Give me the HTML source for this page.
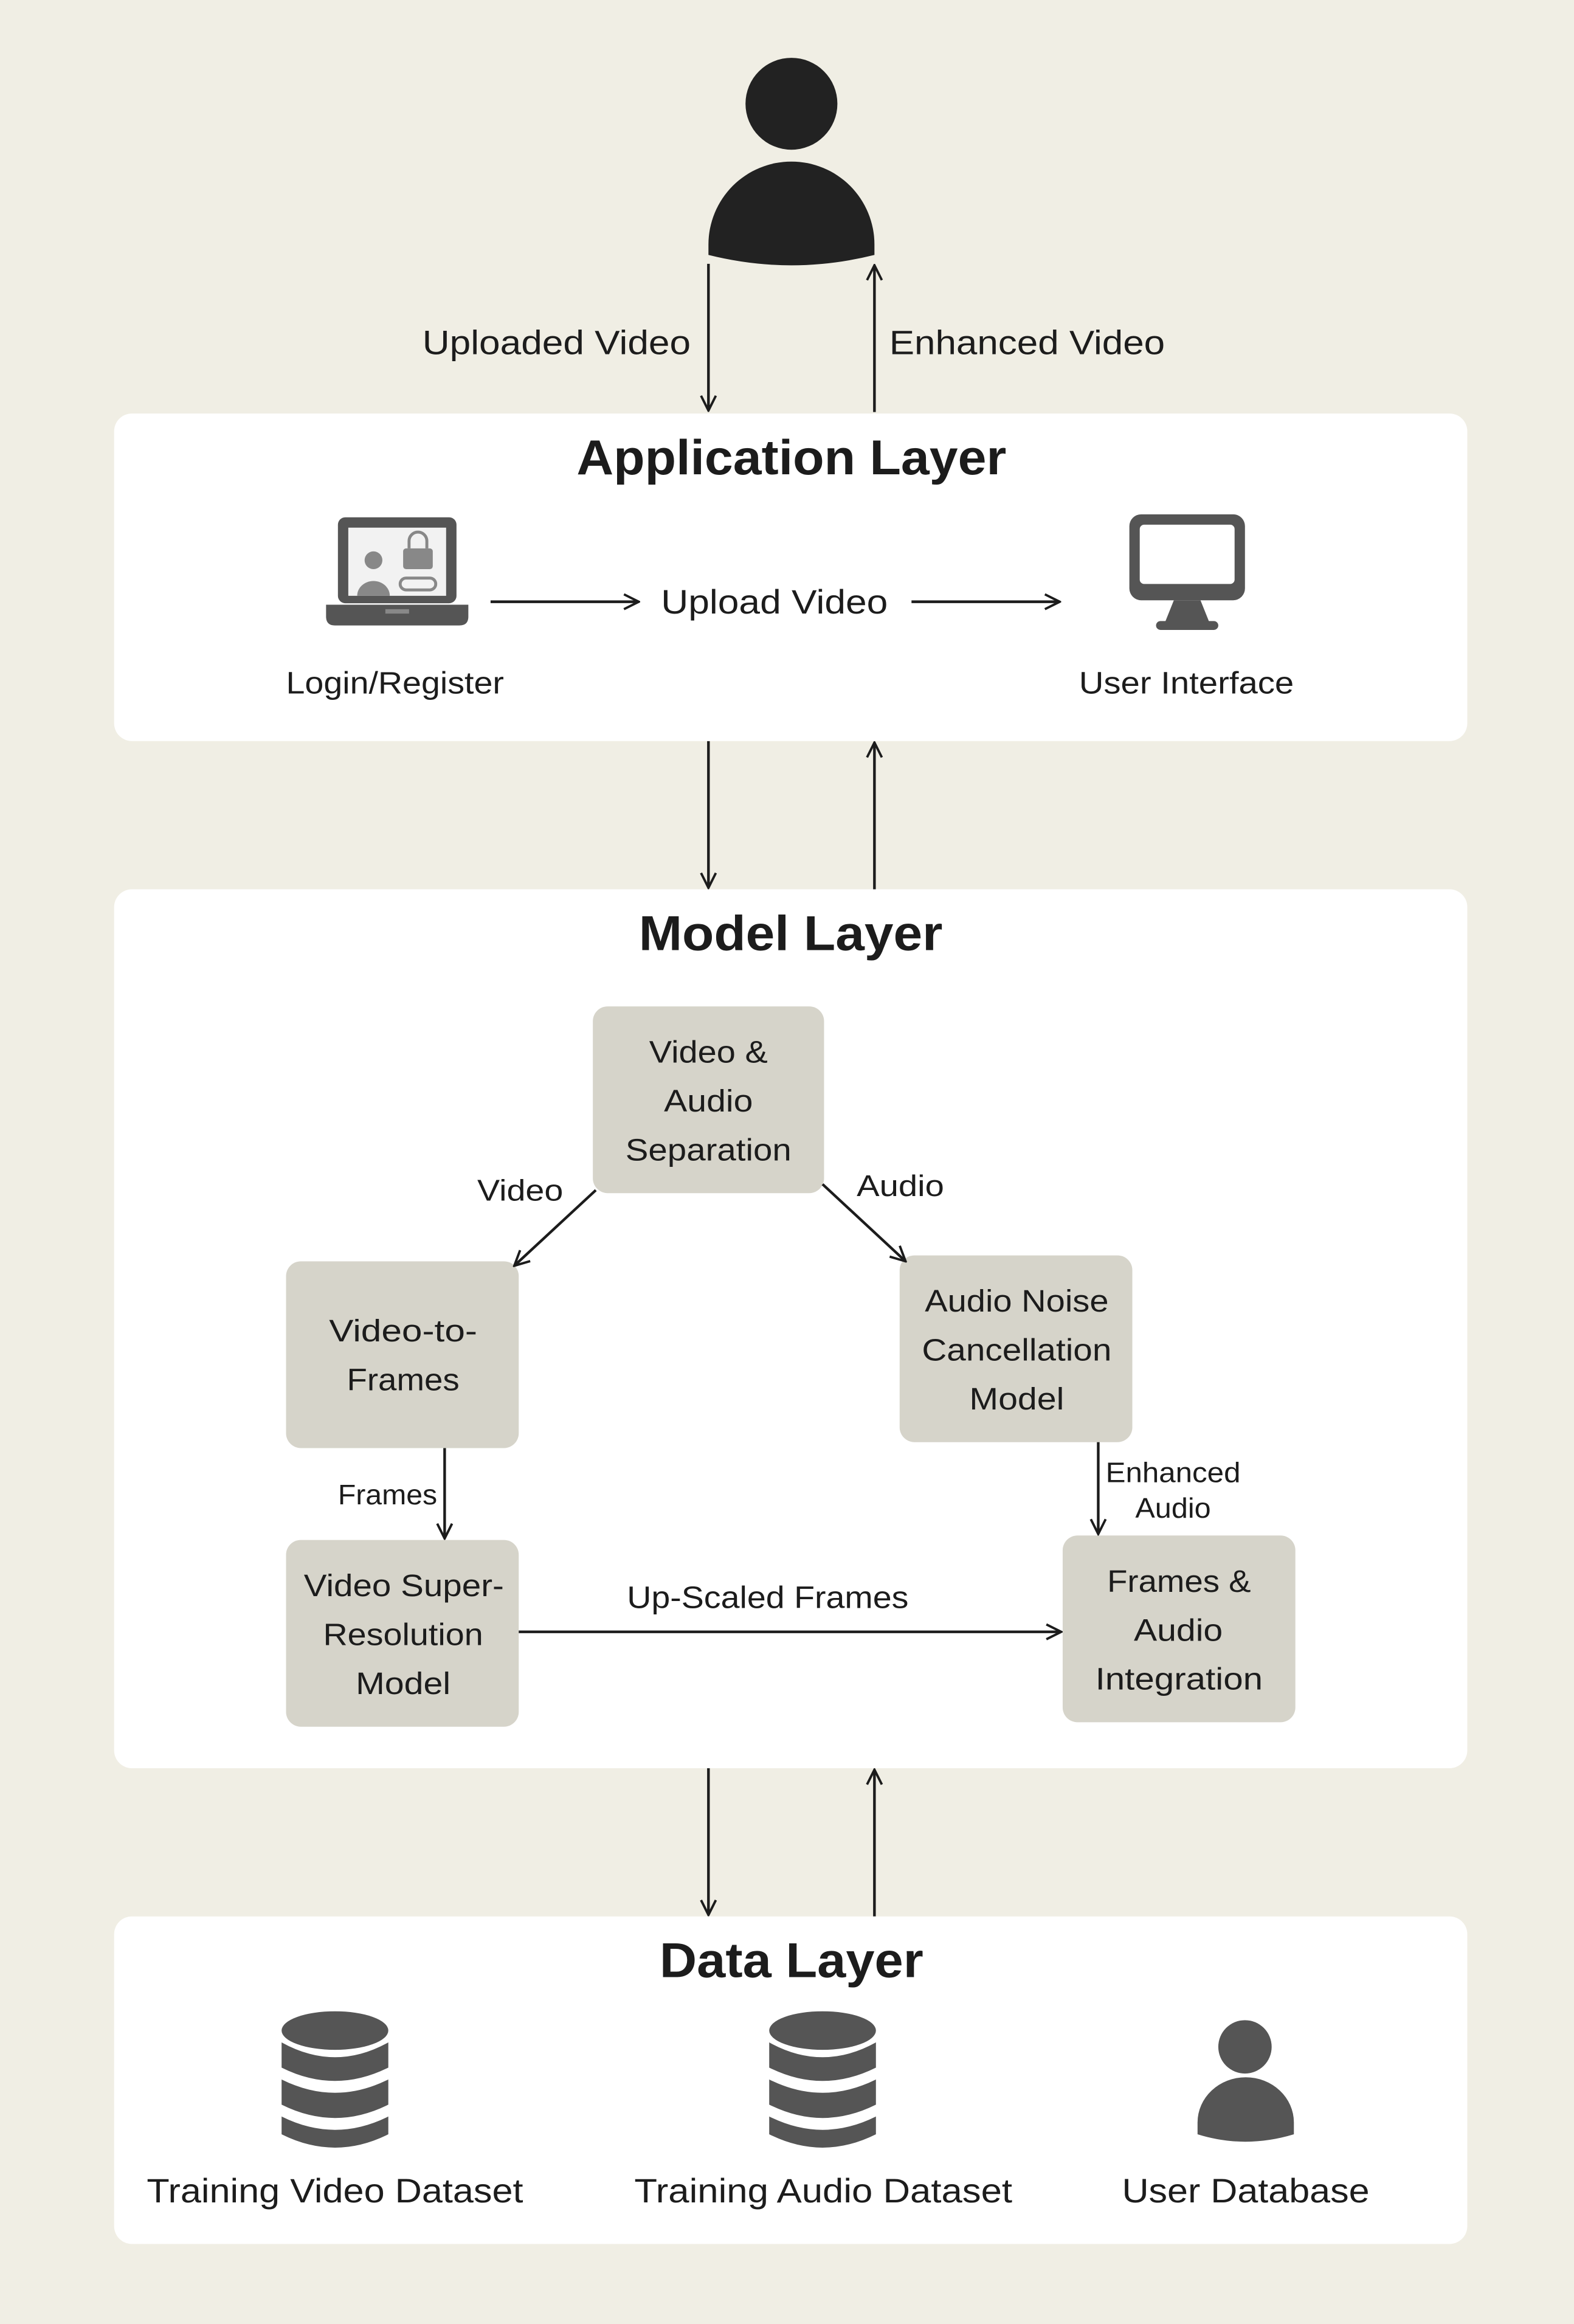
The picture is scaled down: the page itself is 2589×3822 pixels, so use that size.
<!DOCTYPE html>
<html><head><meta charset="utf-8"><style>
html,body{margin:0;padding:0;background:#f0eee4;}
svg{display:block;}
text{font-family:"Liberation Sans","DejaVu Sans",sans-serif;fill:#1c1c1c;}
</style></head><body>
<svg width="2589" height="3822" viewBox="0 0 1062 1568" preserveAspectRatio="none" xmlns="http://www.w3.org/2000/svg">
<defs>
<marker id="ah" viewBox="0 0 12 12" refX="11" refY="6" markerWidth="12" markerHeight="12" markerUnits="userSpaceOnUse" orient="auto">
<path d="M1,1 L11,6 L1,11" fill="none" stroke="#1c1c1c" stroke-width="1.6"/>
</marker>
</defs>
<rect width="1062" height="1568" fill="#f0eee4"/>
<circle cx="534" cy="70" r="31" fill="#222"/>
<path d="M478,172 L478,165 A56,56 0 0 1 590,165 L590,172 Q534,186 478,172 Z" fill="#222"/>
<g stroke="#1c1c1c" stroke-width="1.8" fill="none" marker-end="url(#ah)">
<line x1="478" y1="178" x2="478" y2="277"/>
<line x1="590" y1="278" x2="590" y2="179"/>
<line x1="478" y1="500" x2="478" y2="599"/>
<line x1="590" y1="600" x2="590" y2="501"/>
<line x1="478" y1="1193" x2="478" y2="1292"/>
<line x1="590" y1="1293" x2="590" y2="1194"/>
</g>
<g lengthAdjust="spacingAndGlyphs">
<text x="285" y="239" font-size="23" textLength="181" lengthAdjust="spacingAndGlyphs">Uploaded Video</text>
<text x="600" y="239" font-size="23" textLength="186" lengthAdjust="spacingAndGlyphs">Enhanced Video</text>
</g>
<rect x="77" y="279" width="913" height="221" rx="12" fill="#fff"/>
<rect x="77" y="600" width="913" height="593" rx="12" fill="#fff"/>
<rect x="77" y="1293" width="913" height="221" rx="12" fill="#fff"/>
<text x="389" y="320" font-size="33" font-weight="bold" textLength="290" lengthAdjust="spacingAndGlyphs">Application Layer</text>
<text x="431" y="641" font-size="33" font-weight="bold" textLength="205" lengthAdjust="spacingAndGlyphs">Model Layer</text>
<text x="445" y="1334" font-size="33" font-weight="bold" textLength="178" lengthAdjust="spacingAndGlyphs">Data Layer</text>
<rect x="228" y="349" width="80" height="58" rx="5" fill="#555"/>
<rect x="235" y="356" width="66" height="46" fill="#f2f2f2"/>
<circle cx="252" cy="378" r="6" fill="#888"/>
<path d="M241,402 A11,10 0 0 1 263,402 Z" fill="#888"/>
<rect x="272" y="370" width="20" height="14" rx="2" fill="#888"/>
<path d="M276,370 v-5 a6,6 0 0 1 12,0 v5" fill="none" stroke="#888" stroke-width="2"/>
<rect x="270" y="390" width="24" height="8" rx="4" fill="none" stroke="#888" stroke-width="2"/>
<path d="M220,408 H316 V416 Q316,422 310,422 H226 Q220,422 220,416 Z" fill="#555"/>
<rect x="260" y="411" width="16" height="3" fill="#888"/>
<text x="193" y="468" font-size="21" textLength="147" lengthAdjust="spacingAndGlyphs">Login/Register</text>
<g stroke="#1c1c1c" stroke-width="1.8" fill="none" marker-end="url(#ah)">
<line x1="331" y1="406" x2="431" y2="406"/>
<line x1="615" y1="406" x2="715" y2="406"/>
</g>
<text x="446" y="414" font-size="23" textLength="153" lengthAdjust="spacingAndGlyphs">Upload Video</text>
<rect x="762" y="347" width="78" height="58" rx="8" fill="#555"/>
<rect x="769" y="354" width="64" height="40" rx="3" fill="#fff"/>
<path d="M792,405 L786,420 H816 L810,405 Z" fill="#555"/>
<rect x="780" y="419" width="42" height="6" rx="3" fill="#555"/>
<text x="728" y="468" font-size="21" textLength="145" lengthAdjust="spacingAndGlyphs">User Interface</text>
<g fill="#d6d4ca">
<rect x="400" y="679" width="156" height="126" rx="10"/>
<rect x="193" y="851" width="157" height="126" rx="10"/>
<rect x="607" y="847" width="157" height="126" rx="10"/>
<rect x="193" y="1039" width="157" height="126" rx="10"/>
<rect x="717" y="1036" width="157" height="126" rx="10"/>
</g>
<g font-size="21">
<text x="438" y="717" textLength="80" lengthAdjust="spacingAndGlyphs">Video &amp;</text>
<text x="448" y="750" textLength="60" lengthAdjust="spacingAndGlyphs">Audio</text>
<text x="422" y="783" textLength="112" lengthAdjust="spacingAndGlyphs">Separation</text>
<text x="222" y="905" textLength="100" lengthAdjust="spacingAndGlyphs">Video-to-</text>
<text x="234" y="938" textLength="76" lengthAdjust="spacingAndGlyphs">Frames</text>
<text x="624" y="885" textLength="124" lengthAdjust="spacingAndGlyphs">Audio Noise</text>
<text x="622" y="918" textLength="128" lengthAdjust="spacingAndGlyphs">Cancellation</text>
<text x="654" y="951" textLength="64" lengthAdjust="spacingAndGlyphs">Model</text>
<text x="205" y="1077" textLength="135" lengthAdjust="spacingAndGlyphs">Video Super-</text>
<text x="218" y="1110" textLength="108" lengthAdjust="spacingAndGlyphs">Resolution</text>
<text x="240" y="1143" textLength="64" lengthAdjust="spacingAndGlyphs">Model</text>
<text x="747" y="1074" textLength="97" lengthAdjust="spacingAndGlyphs">Frames &amp;</text>
<text x="765" y="1107" textLength="60" lengthAdjust="spacingAndGlyphs">Audio</text>
<text x="739" y="1140" textLength="113" lengthAdjust="spacingAndGlyphs">Integration</text>
</g>
<g stroke="#1c1c1c" stroke-width="1.8" fill="none" marker-end="url(#ah)">
<line x1="402" y1="803" x2="347" y2="854"/>
<line x1="555" y1="799" x2="611" y2="851"/>
<line x1="300" y1="977" x2="300" y2="1038"/>
<line x1="741" y1="973" x2="741" y2="1035"/>
<line x1="350" y1="1101" x2="716" y2="1101"/>
</g>
<text x="322" y="810" font-size="20" textLength="58" lengthAdjust="spacingAndGlyphs">Video</text>
<text x="578" y="807" font-size="20" textLength="59" lengthAdjust="spacingAndGlyphs">Audio</text>
<text x="228" y="1015" font-size="19" textLength="67" lengthAdjust="spacingAndGlyphs">Frames</text>
<text x="746" y="1000" font-size="19" textLength="91" lengthAdjust="spacingAndGlyphs">Enhanced</text>
<text x="766" y="1024" font-size="19" textLength="51" lengthAdjust="spacingAndGlyphs">Audio</text>
<text x="423" y="1085" font-size="21" textLength="190" lengthAdjust="spacingAndGlyphs">Up-Scaled Frames</text>
<g fill="#555">
<ellipse cx="226" cy="1370" rx="36" ry="13"/>
<path d="M190,1378 Q226,1398 262,1378 V1395 Q226,1413 190,1395 Z"/>
<path d="M190,1403 Q226,1421 262,1403 V1420 Q226,1438 190,1420 Z"/>
<path d="M190,1428 Q226,1446 262,1428 V1440 Q226,1458 190,1440 Z"/>
<ellipse cx="555" cy="1370" rx="36" ry="13"/>
<path d="M519,1378 Q555,1398 591,1378 V1395 Q555,1413 519,1395 Z"/>
<path d="M519,1403 Q555,1421 591,1403 V1420 Q555,1438 519,1420 Z"/>
<path d="M519,1428 Q555,1446 591,1428 V1440 Q555,1458 519,1440 Z"/>
<circle cx="840" cy="1381" r="18"/>
<path d="M808,1440 V1432 A32,30 0 0 1 873,1432 V1440 Q840,1450 808,1440 Z"/>
</g>
<g font-size="23">
<text x="99" y="1486" textLength="254" lengthAdjust="spacingAndGlyphs">Training Video Dataset</text>
<text x="428" y="1486" textLength="255" lengthAdjust="spacingAndGlyphs">Training Audio Dataset</text>
<text x="757" y="1486" textLength="167" lengthAdjust="spacingAndGlyphs">User Database</text>
</g>
</svg>
</body></html>
